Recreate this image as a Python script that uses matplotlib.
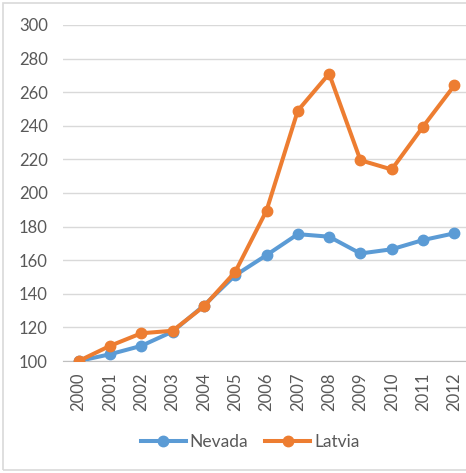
import matplotlib.pyplot as plt
from matplotlib.patches import Rectangle

years = ["2000", "2001", "2002", "2003", "2004", "2005", "2006",
         "2007", "2008", "2009", "2010", "2011", "2012"]
nevada = [100, 104, 109, 117.5, 133, 151, 163, 175.5, 174, 164, 166.5, 172, 176]
latvia = [100, 109, 116.5, 118, 132.5, 153, 189.5, 249, 271, 219.5, 214, 239.5, 264]

plt.rcParams['font.family'] = ['Lato', 'DejaVu Sans']

W, H = 466, 473
fig = plt.figure(figsize=(W / 100, H / 100), dpi=100)
# plot area in pixels: left 63, right 470 (cut off), top 25, bottom 361
ax = fig.add_axes([63 / W, 1 - 361 / H, (470 - 63) / W, (361 - 25) / H])

x = list(range(len(years)))
ax.plot(x, nevada, color="#5B9BD5", lw=2.9, marker="o", ms=7.5, label="Nevada", zorder=3)
ax.plot(x, latvia, color="#ED7D31", lw=2.9, marker="o", ms=7.5, label="Latvia", zorder=4)

ax.set_xlim(-0.5, len(years) - 0.5)
ax.set_ylim(100, 300)
ax.set_yticks(range(100, 301, 20))
ax.set_xticks(x)
ax.set_xticklabels(years, rotation=90)
ax.grid(axis="y", color="#D9D9D9", lw=1)
ax.set_axisbelow(True)
for s in ["top", "right", "left"]:
    ax.spines[s].set_visible(False)
ax.spines["bottom"].set_color("#BFBFBF")
ax.tick_params(length=0, colors="#595959", labelsize=12)
ax.tick_params(axis="y", pad=11)
ax.tick_params(axis="x", pad=8)

fig.legend(loc="center", bbox_to_anchor=(250 / W, 1 - 442 / H), ncol=2, frameon=False,
           fontsize=12.5, labelcolor="#595959", handlelength=2.6, columnspacing=1.0,
           handletextpad=0.2)

fig.patches.append(Rectangle((3 / W, 3 / H), 1, 1 - 6 / H, transform=fig.transFigure,
                             fill=False, edgecolor="#D9D9D9", lw=1.2))

fig.savefig("out.png", dpi=100)
